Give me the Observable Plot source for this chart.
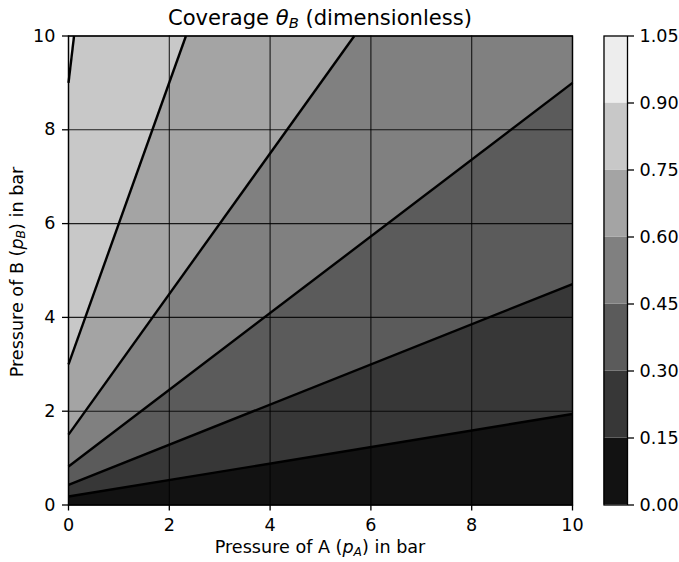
<!DOCTYPE html>
<html>
<head>
<meta charset="utf-8">
<script src="https://cdn.jsdelivr.net/npm/d3@7"></script>
<script src="https://cdn.jsdelivr.net/npm/@observablehq/plot@0.6"></script>
<style>
  html, body { margin: 0; padding: 0; background: #fff; }
  #wrap { position: relative; width: 679px; height: 562px; font-family: "DejaVu Sans", sans-serif; }
  #wrap > div, #wrap > svg { position: absolute; }
</style>
</head>
<body>
<div id="wrap"></div>
<script>
// ---- data ----
const levels = [0, 0.15, 0.30, 0.45, 0.60, 0.75, 0.90, 1.05];
const bandColors = ["#121212", "#373737", "#5b5b5b", "#808080", "#a4a4a4", "#c8c8c8", "#ededed"];
// contour lines (one per inner level): start on the left edge (p_A = 0), end on right or top edge
const contourLevels = [0.15, 0.30, 0.45, 0.60, 0.75, 0.90];
const startPA = [0, 0, 0, 0, 0, 0];
const startPB = [0.18, 0.43, 0.82, 1.5, 3.0, 9.0];
const endPA = [10, 10, 10, 5.67, 2.33, 0.11];
const endPB = [1.94, 4.71, 9.0, 10, 10, 10];
const xTicks = [0, 2, 4, 6, 8, 10];
const yTicks = [0, 2, 4, 6, 8, 10];
const xDomain = [0, 10];
const yDomain = [0, 10];

// ---- build band polygons from the contour lines and the box ----
const X0 = xDomain[0], X1 = xDomain[1], Y0 = yDomain[0], Y1 = yDomain[1];
const W = X1 - X0, H = Y1 - Y0;
function perim([x, y]) { // counter-clockwise perimeter position from (X0,Y0)
  const e = 1e-9;
  if (Math.abs(y - Y0) < e && x > X0 + e) return x - X0;
  if (Math.abs(x - X1) < e) return W + (y - Y0);
  if (Math.abs(y - Y1) < e) return W + H + (X1 - x);
  return W + H + W + (Y1 - y);
}
const corners = [[X1, Y0], [X1, Y1], [X0, Y1]];
const lines = contourLevels.map((lv, i) => ({
  level: lv,
  start: [startPA[i], startPB[i]],
  end: [endPA[i], endPB[i]]
}));
const bottomLine = {start: [X0, Y0], end: [X1, Y0]};
const topLine = {start: [X0, Y1], end: [X0, Y1]};
const bounds = [bottomLine, ...lines, topLine];
const bands = bandColors.map((color, k) => {
  const L = bounds[k], U = bounds[k + 1];
  const pts = [L.start, L.end];
  const s0 = perim(L.end), s1 = perim(U.end);
  corners.filter(c => { const s = perim(c); return s > s0 && s < s1; })
         .sort((a, b) => perim(a) - perim(b))
         .forEach(c => pts.push(c));
  pts.push(U.end, U.start);
  return {color, lo: levels[k], hi: levels[k + 1], pts: pts.map(([x, y]) => ({x, y}))};
});

const FONT = "DejaVu Sans";
const fs = 17.6;

// ---- main chart ----
const main = Plot.plot({
  width: 679,
  height: 562,
  marginLeft: 68,
  marginRight: 107,
  marginTop: 35.5,
  marginBottom: 57.5,
  style: {fontFamily: FONT, fontSize: fs + "px", color: "#000", background: "transparent"},
  x: {domain: xDomain, ticks: xTicks, label: null},
  y: {domain: yDomain, ticks: yTicks, label: null},
  marks: [
    ...bands.map(b => Plot.line(b.pts, {x: "x", y: "y", fill: b.color, stroke: b.color, strokeWidth: 0.6})),
    Plot.gridX(xTicks, {stroke: "#000", strokeOpacity: 0.85, strokeWidth: 1.1}),
    Plot.gridY(yTicks, {stroke: "#000", strokeOpacity: 0.85, strokeWidth: 1.1}),
    Plot.link(lines, {x1: d => d.start[0], y1: d => d.start[1], x2: d => d.end[0], y2: d => d.end[1], stroke: "#000", strokeWidth: 2.4}),
    Plot.frame({stroke: "#000", strokeWidth: 1.4}),
    Plot.axisX(xTicks, {tickSize: 6, tickPadding: 7.5, strokeWidth: 1.3, fontSize: fs, tickFormat: d3.format("d"), label: null}),
    Plot.axisY(yTicks, {tickSize: 6, tickPadding: 7, strokeWidth: 1.3, fontSize: fs, tickFormat: d3.format("d"), label: null})
  ]
});
main.style.left = "0px";
main.style.top = "0px";
document.getElementById("wrap").appendChild(main);

// rich text labels (italic symbols with subscripts)
const svg = d3.select(main);
function richText(sel, parts) {
  parts.forEach(p => {
    const t = sel.append("tspan").text(p.t);
    if (p.i) t.attr("font-style", "italic");
    if (p.sub) t.attr("font-size", "70%").attr("dy", "0.22em");
    if (p.up) t.attr("dy", "-0.154em");
  });
}
const title = svg.append("text")
  .attr("x", 320).attr("y", 24.5)
  .attr("text-anchor", "middle").attr("font-family", FONT).attr("font-size", 21.1).attr("fill", "#000");
richText(title, [{t: "Coverage "}, {t: "θ", i: true}, {t: "B", i: true, sub: true}, {t: " (dimensionless)", up: true}]);

const xl = svg.append("text")
  .attr("x", 320).attr("y", 553)
  .attr("text-anchor", "middle").attr("font-family", FONT).attr("font-size", fs).attr("fill", "#000");
richText(xl, [{t: "Pressure of A ("}, {t: "p", i: true}, {t: "A", i: true, sub: true}, {t: ") in bar", up: true}]);

const yl = svg.append("text")
  .attr("transform", "translate(22.5,272) rotate(-90)")
  .attr("text-anchor", "middle").attr("font-family", FONT).attr("font-size", fs).attr("fill", "#000");
richText(yl, [{t: "Pressure of B ("}, {t: "p", i: true}, {t: "B", i: true, sub: true}, {t: ") in bar", up: true}]);

// ---- colorbar ----
const cbar = Plot.plot({
  width: 76,
  height: 562,
  marginLeft: 0.5,
  marginRight: 52,
  marginTop: 35.5,
  marginBottom: 57.5,
  style: {fontFamily: FONT, fontSize: fs + "px", color: "#000", background: "transparent"},
  y: {domain: [levels[0], levels[levels.length - 1]], label: null},
  marks: [
    Plot.rect(bands, {y1: "lo", y2: "hi", fill: "color"}),
    Plot.frame({stroke: "#000", strokeWidth: 1.3}),
    Plot.axisY(levels, {anchor: "right", tickSize: 6, tickPadding: 6, strokeWidth: 1.3, fontSize: fs, tickFormat: d3.format(".2f"), label: null})
  ]
});
cbar.style.left = "603px";
cbar.style.top = "0px";
document.getElementById("wrap").appendChild(cbar);
</script>
</body>
</html>
